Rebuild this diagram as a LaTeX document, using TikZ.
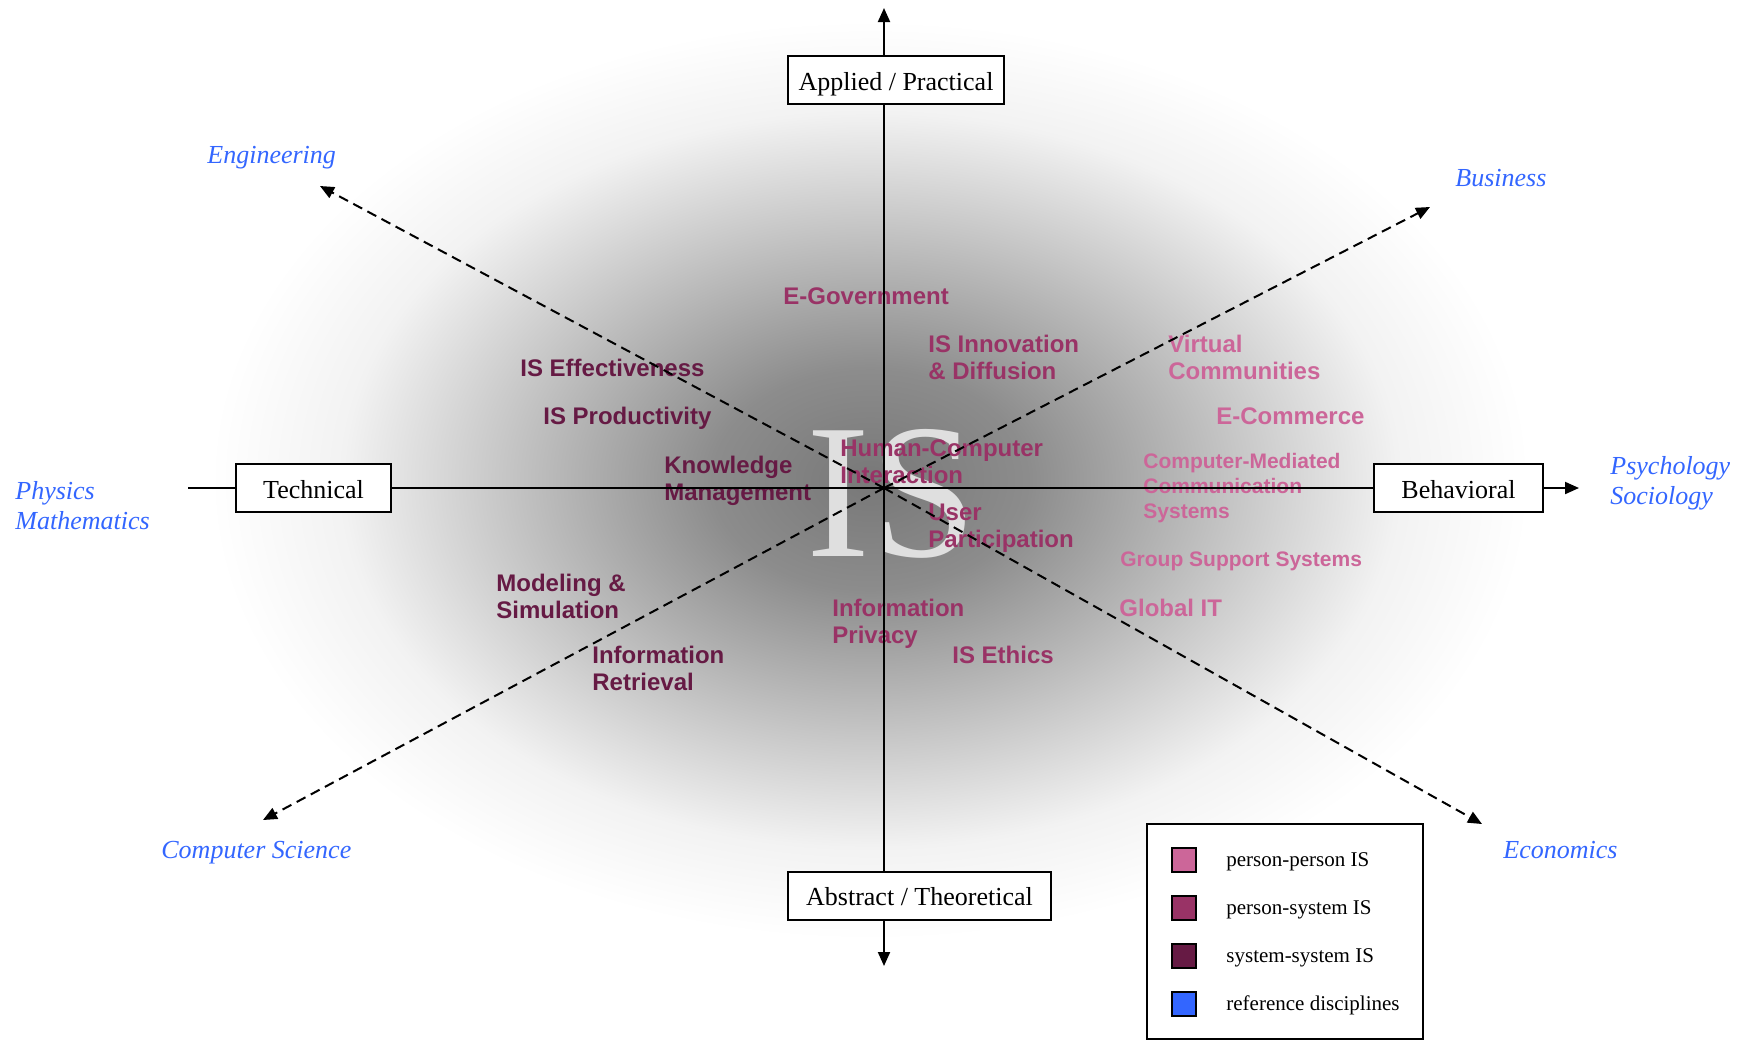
\documentclass[tikz,border=0pt]{standalone}
\usepackage{fontspec}
\setmainfont{Liberation Serif}
\newfontfamily\topicfont{Liberation Sans}
\usetikzlibrary{arrows.meta}

\definecolor{perpers}{RGB}{204,102,153}
\definecolor{persys}{RGB}{153,51,102}
\definecolor{syssys}{RGB}{102,26,68}
\definecolor{refblue}{RGB}{51,102,255}

\pgfdeclareradialshading{halo}{\pgfpoint{0bp}{0bp}}{color(0bp)=(black!53); color(6bp)=(black!45); color(14bp)=(black!22); color(20bp)=(black!5); color(25bp)=(white); color(50bp)=(white)}

\tikzset{
  axisbox/.style={draw, fill=white, line width=1pt, minimum height=24pt, inner sep=0pt, text height=10pt, text depth=0pt, font=\fontsize{13}{15}\selectfont},
  topic/.style={anchor=base west, inner sep=0pt, align=left, font=\topicfont\bfseries\fontsize{12}{13.5}\selectfont},
  smalltopic/.style={topic, font=\topicfont\bfseries\fontsize{10.5}{12.5}\selectfont},
  discipline/.style={anchor=base west, inner sep=0pt, text=refblue, align=left, font=\itshape\fontsize{13}{15}\selectfont},
  swatch/.style={draw, line width=1pt, minimum size=12pt, inner sep=0pt},
  keytext/.style={anchor=base west, inner sep=0pt, font=\fontsize{10.5}{12}\selectfont}
}

\begin{document}
\begin{tikzpicture}[x=0.5pt, y=-0.5pt, >={Triangle[length=7pt,width=6pt]}]
        \useasboundingbox (0,0) rectangle (1752,1041);

        % grey halo behind the map
        \shade[shading=halo] (870,480) ellipse (660 and 460);
        \node[anchor=base west, inner sep=0pt, text=gray!25, font=\fontsize{96}{96}\selectfont] (bigis) at (806,556) {IS};

        % system-system IS (multi-line nodes sit on their last baseline)
        \node[topic, text=syssys] (iseff) at (520,376) {IS Effectiveness};
        \node[topic, text=syssys] (isprod) at (543,424) {IS Productivity};
        \node[topic, text=syssys] (kmgmt) at (664,500) {Knowledge\\Management};
        \node[topic, text=syssys] (modsim) at (496,618) {Modeling \&\\Simulation};
        \node[topic, text=syssys] (inforet) at (592,690) {Information\\Retrieval};

        % person-system IS
        \node[topic, text=persys] (egov) at (783,304) {E-Government};
        \node[topic, text=persys] (isinno) at (928,379) {IS Innovation\\\& Diffusion};
        \node[topic, text=persys] (hci) at (840,483) {Human-Computer\\Interaction};
        \node[topic, text=persys] (userpart) at (928,547) {User\\Participation};
        \node[topic, text=persys] (infopriv) at (832,643) {Information\\Privacy};
        \node[topic, text=persys] (isethics) at (952,663) {IS Ethics};

        % person-person IS
        \node[topic, text=perpers] (virtcom) at (1168,379) {Virtual\\Communities};
        \node[topic, text=perpers] (ecomm) at (1216,424) {E-Commerce};
        \node[smalltopic, text=perpers] (cmcs) at (1143,518) {Computer-Mediated\\Communication\\Systems};
        \node[smalltopic, text=perpers] (gss) at (1120,566) {Group Support Systems};
        \node[topic, text=perpers] (globalit) at (1119,616) {Global IT};

        % axes
        \coordinate (origin) at (884,488);
        \node[axisbox, minimum width=108pt] (applied) at (896,80) {Applied / Practical};
        \node[axisbox, minimum width=131.5pt] (abstract) at (919.5,895.5) {Abstract / Theoretical};
        \node[axisbox, minimum width=77.5pt] (technical) at (313.5,488) {Technical};
        \node[axisbox, minimum width=84.5pt] (behavioral) at (1458.5,488) {Behavioral};
        \coordinate (toptip) at (884,8);
        \coordinate (bottip) at (884,966);
        \coordinate (lefttail) at (188,488);
        \coordinate (righttip) at (1579,488);

        \draw[line width=1pt, ->] (applied.north -| origin) -- (toptip);
        \draw[line width=1pt] (applied.south -| origin) -- (abstract.north -| origin);
        \draw[line width=1pt, ->] (abstract.south -| origin) -- (bottip);
        \draw[line width=1pt] (lefttail) -- (technical);
        \draw[line width=1pt] (technical) -- (behavioral);
        \draw[line width=1pt, ->] (behavioral) -- (righttip);

        % reference disciplines
        \node[discipline] (eng) at (207,163) {Engineering};
        \node[discipline] (bus) at (1455,186) {Business};
        \node[discipline] (physmath) at (15,529) {Physics\\Mathematics};
        \node[discipline] (psysoc) at (1610,504) {Psychology\\Sociology};
        \node[discipline] (compsci) at (161,858) {Computer Science};
        \node[discipline] (econ) at (1503,858) {Economics};

        \coordinate (engtip) at (320,186);
        \coordinate (bustip) at (1430,207);
        \coordinate (cstip) at (263,820);
        \coordinate (ecotip) at (1482,824);
        \draw[line width=1pt, dash pattern=on 5pt off 3pt, ->] (origin) -- (engtip);
        \draw[line width=1pt, dash pattern=on 5pt off 3pt, ->] (origin) -- (bustip);
        \draw[line width=1pt, dash pattern=on 5pt off 3pt, ->] (origin) -- (cstip);
        \draw[line width=1pt, dash pattern=on 5pt off 3pt, ->] (origin) -- (ecotip);

        % legend
        \draw[line width=1pt, fill=white] (1147,824) rectangle (1423,1039);
        \node[swatch, fill=perpers] (ppkey) at (1184,860) {};
        \node[swatch, fill=persys] (pskey) at (1184,908) {};
        \node[swatch, fill=syssys] (sskey) at (1184,956) {};
        \node[swatch, fill=refblue] (rdkey) at (1184,1004) {};
        \node[keytext] (pptext) at (1226,866) {person-person IS};
        \node[keytext] (pstext) at (1226,914) {person-system IS};
        \node[keytext] (sstext) at (1226,962) {system-system IS};
        \node[keytext] (rdtext) at (1226,1010) {reference disciplines};
\end{tikzpicture}
\end{document}
